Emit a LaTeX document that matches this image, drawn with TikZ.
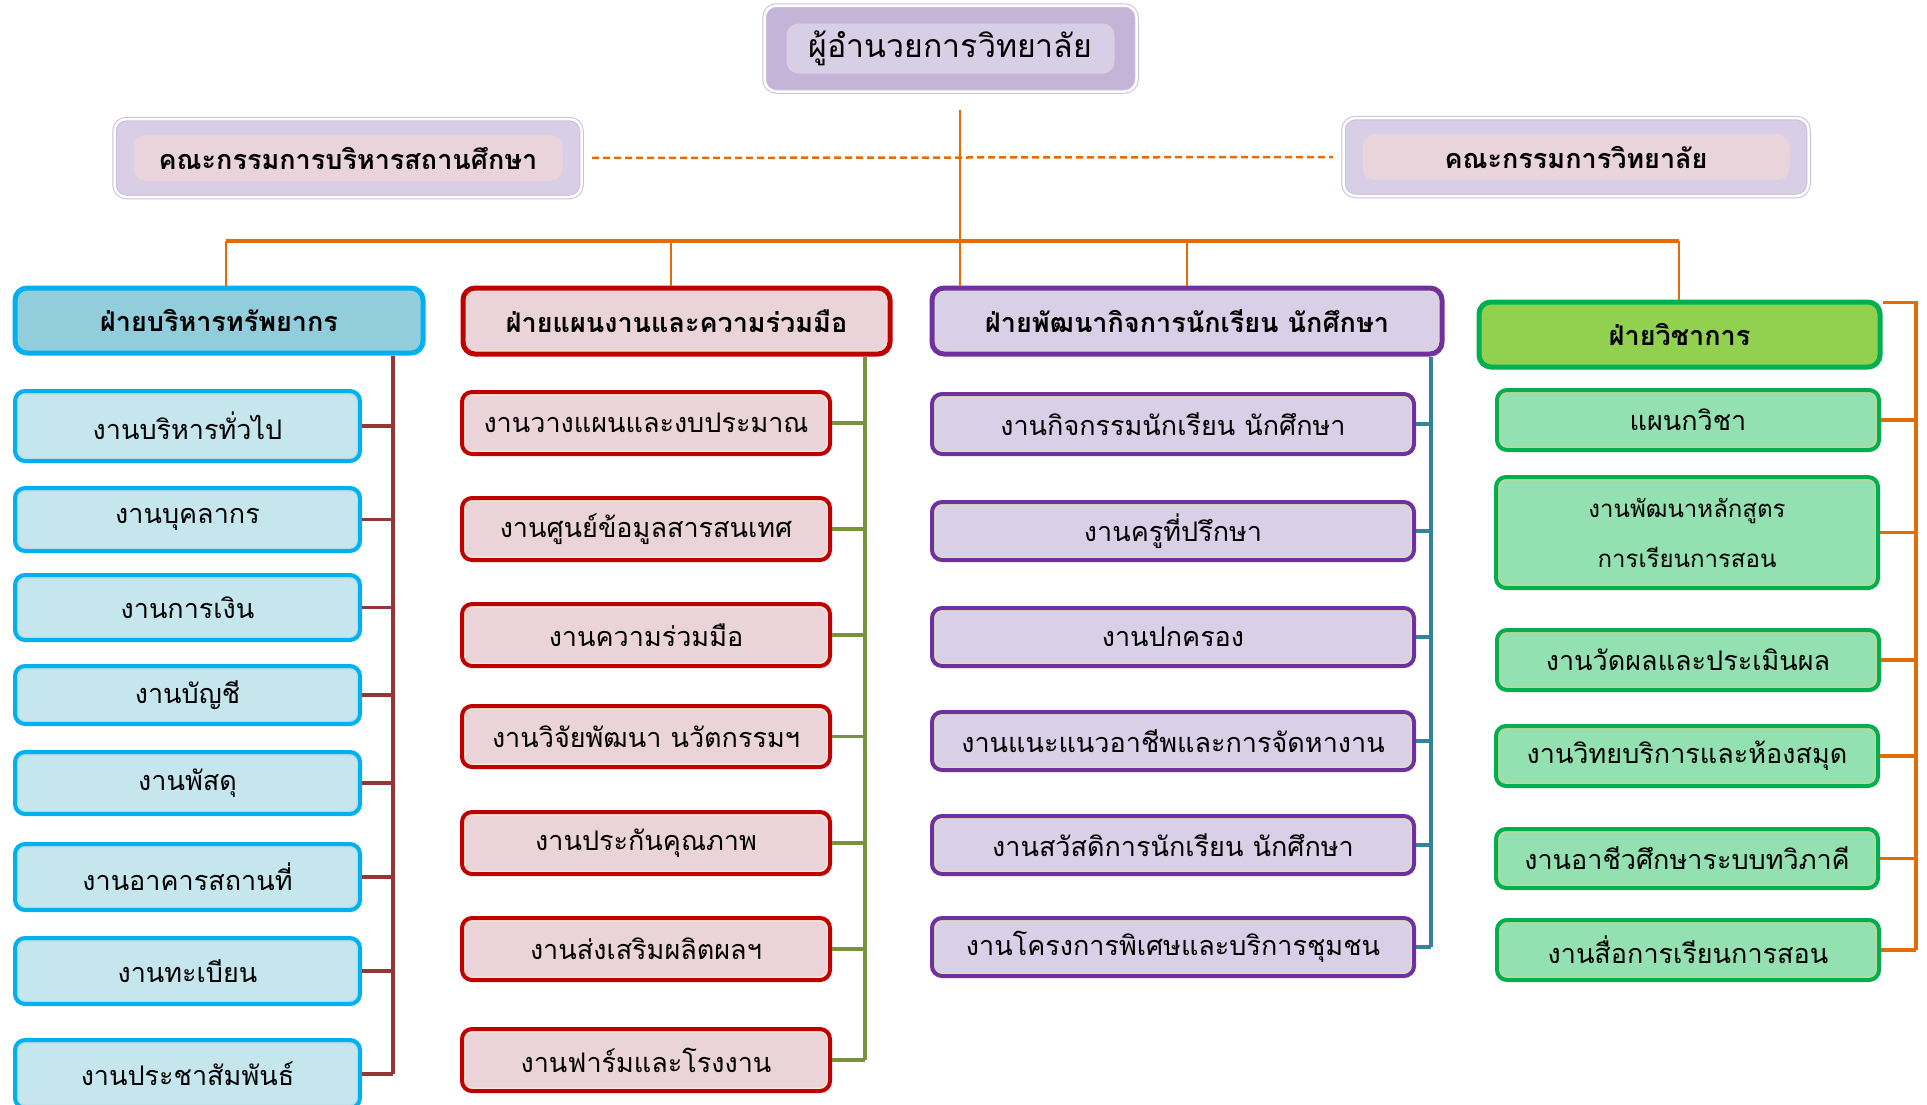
\documentclass[tikz,border=0pt]{standalone}
\usepackage{fontspec}
\newfontfamily\thai[Script=Thai]{Loma}
\definecolor{orng}{HTML}{E36C09}
\definecolor{blueB}{HTML}{00B0F0}
\definecolor{blueH}{HTML}{92CDDC}
\definecolor{blueS}{HTML}{C6E6EE}
\definecolor{blueI}{HTML}{B6DDE8}
\definecolor{redB}{HTML}{C00000}
\definecolor{redS}{HTML}{EBD3DA}
\definecolor{redI}{HTML}{FDE9D9}
\definecolor{purB}{HTML}{7030A0}
\definecolor{purS}{HTML}{D9CFE6}
\definecolor{purI}{HTML}{D7E4BD}
\definecolor{grnB}{HTML}{00B050}
\definecolor{grnH}{HTML}{92D050}
\definecolor{grnS}{HTML}{93E1B1}
\definecolor{grnI}{HTML}{C3D69B}
\definecolor{lnA}{HTML}{953735}
\definecolor{lnB}{HTML}{77933C}
\definecolor{lnC}{HTML}{31849B}
\definecolor{lavO}{HTML}{C4B5D8}
\definecolor{lavL}{HTML}{CBBFDE}
\definecolor{lavI}{HTML}{D8CFE6}
\definecolor{pinkI}{HTML}{EAD4DC}
\newcommand{\ubox}[7]{%
  \pgfmathsetmacro{\uCx}{(#3+#5)/2}\pgfmathsetmacro{\uCy}{(#4+#6)/2}%
  \pgfmathsetmacro{\uW}{#5-#3-4}\pgfmathsetmacro{\uH}{#6-#4-4}%
  \node[#2, minimum width=\uW pt, minimum height=\uH pt] (#1) at (\uCx,\uCy) {#7};}
\tikzset{
  inset/.style 2 args={fill=#1, path picture={\fill[#2, rounded corners=7pt]
     ([shift={(3.5pt,-3.5pt)}]path picture bounding box.north west) rectangle
     ([shift={(-3.5pt,3.5pt)}]path picture bounding box.south east);}},
  ubase/.style={rounded corners=10pt, line width=4pt, inner sep=0pt, align=center,
     font=\thai\fontsize{27}{32}\selectfont},
  hbase/.style={rounded corners=12pt, line width=5pt, inner sep=0pt, align=center,
     font=\thai\bfseries\fontsize{27}{32}\selectfont},
  hA/.style={hbase, draw=blueB, inset={blueH}{blueH}},
  hB/.style={hbase, draw=redB, inset={redI}{redS}},
  hC/.style={hbase, draw=purB, inset={purI}{purS}},
  hD/.style={hbase, draw=grnB, inset={grnH}{grnH}},
  sA/.style={ubase, draw=blueB, inset={blueI}{blueS}},
  sB/.style={ubase, draw=redB, inset={redI}{redS}},
  sC/.style={ubase, draw=purB, inset={purI}{purS}},
  sD/.style={ubase, draw=grnB, inset={grnI}{grnS}},
  toplink/.style={draw=orng, line width=2.5pt},
  brA/.style={draw=lnA, line width=3.5pt},
  brB/.style={draw=lnB, line width=3.5pt},
  brC/.style={draw=lnC, line width=3.5pt},
  brD/.style={draw=orng, line width=3.5pt},
  lavbox/.style={rounded corners=12pt, fill=lavO, draw=lavL, double=white,
     double distance=2.5pt, line width=1pt, inner sep=0pt},
}
\begin{document}
\begin{tikzpicture}[x=1pt,y=-1pt]
\useasboundingbox (0,0) rectangle (1927,1104);
\clip (0,0) rectangle (1927,1104);
% director
\node[lavbox, fill=lavO, minimum width=372pt, minimum height=86pt,
  path picture={\fill[lavI] ([shift={(22pt,-18pt)}]path picture bounding box.north west) rectangle ([shift={(-22pt,18pt)}]path picture bounding box.south east);},
  font=\thai\fontsize{32}{38}\selectfont] (dir) at (950.5,48.5) {ผู้อำนวยการวิทยาลัย};
% committees
\node[lavbox, fill=lavI, minimum width=467pt, minimum height=78pt,
  path picture={\fill[pinkI] ([shift={(19pt,-16pt)}]path picture bounding box.north west) rectangle ([shift={(-19pt,16pt)}]path picture bounding box.south east);},
  font=\thai\bfseries\fontsize{27}{32}\selectfont] (c1) at (348,158) {คณะกรรมการบริหารสถานศึกษา};
\node[lavbox, fill=lavI, minimum width=465pt, minimum height=78pt,
  path picture={\fill[pinkI] ([shift={(19pt,-16pt)}]path picture bounding box.north west) rectangle ([shift={(-19pt,16pt)}]path picture bounding box.south east);},
  font=\thai\bfseries\fontsize{27}{32}\selectfont] (c2) at (1576,157) {คณะกรรมการวิทยาลัย};
% headers
\ubox{h1}{hA}{13}{286}{425}{355}{ฝ่ายบริหารทรัพยากร}
\ubox{h2}{hB}{461}{286}{892}{356}{ฝ่ายแผนงานและความร่วมมือ}
\ubox{h3}{hC}{930}{286}{1444}{356}{ฝ่ายพัฒนากิจการนักเรียน นักศึกษา}
\ubox{h4}{hD}{1477}{300}{1882}{369}{ฝ่ายวิชาการ}
% column 1
\ubox{s11}{sA}{13}{389}{362}{463}{งานบริหารทั่วไป}
\ubox{s12}{sA}{13}{486}{362}{553}{งานบุคลากร}
\ubox{s13}{sA}{13}{573}{362}{642}{งานการเงิน}
\ubox{s14}{sA}{13}{664}{362}{726}{งานบัญชี}
\ubox{s15}{sA}{13}{750}{362}{816}{งานพัสดุ}
\ubox{s16}{sA}{13}{842}{362}{912}{งานอาคารสถานที่}
\ubox{s17}{sA}{13}{936}{362}{1006}{งานทะเบียน}
\ubox{s18}{sA}{13}{1038}{362}{1110}{งานประชาสัมพันธ์}
% column 2
\ubox{s21}{sB}{460}{390}{832}{456}{งานวางแผนและงบประมาณ}
\ubox{s22}{sB}{460}{496}{832}{562}{งานศูนย์ข้อมูลสารสนเทศ}
\ubox{s23}{sB}{460}{602}{832}{668}{งานความร่วมมือ}
\ubox{s24}{sB}{460}{704}{832}{769}{งานวิจัยพัฒนา นวัตกรรมฯ}
\ubox{s25}{sB}{460}{810}{832}{876}{งานประกันคุณภาพ}
\ubox{s26}{sB}{460}{916}{832}{982}{งานส่งเสริมผลิตผลฯ}
\ubox{s27}{sB}{460}{1027}{832}{1093}{งานฟาร์มและโรงงาน}
% column 3
\ubox{s31}{sC}{930}{392}{1416}{456}{งานกิจกรรมนักเรียน นักศึกษา}
\ubox{s32}{sC}{930}{500}{1416}{562}{งานครูที่ปรึกษา}
\ubox{s33}{sC}{930}{606}{1416}{668}{งานปกครอง}
\ubox{s34}{sC}{930}{710}{1416}{772}{งานแนะแนวอาชีพและการจัดหางาน}
\ubox{s35}{sC}{930}{814}{1416}{876}{งานสวัสดิการนักเรียน นักศึกษา}
\ubox{s36}{sC}{930}{916}{1416}{978}{งานโครงการพิเศษและบริการชุมชน}
% column 4
\ubox{s41}{sD}{1495}{388}{1881}{452}{แผนกวิชา}
\ubox{s42}{sD, font=\thai\fontsize{24}{50}\selectfont}{1494}{475}{1880}{590}{งานพัฒนาหลักสูตร\\การเรียนการสอน}
\ubox{s43}{sD}{1495}{628}{1881}{692}{งานวัดผลและประเมินผล}
\ubox{s44}{sD}{1494}{724}{1880}{788}{งานวิทยบริการและห้องสมุด}
\ubox{s45}{sD}{1494}{827}{1880}{890}{งานอาชีวศึกษาระบบทวิภาคี}
\ubox{s46}{sD}{1495}{918}{1881}{982}{งานสื่อการเรียนการสอน}
% top connectors
\coordinate (t0) at (960,110);
\coordinate (bl) at (226,241);
\coordinate (br) at (1679,241);
\coordinate (d2) at (671,241);
\draw[orng, line width=2.5pt, dash pattern=on 7pt off 4pt, shorten <=10pt, shorten >=10pt] (c1.east) -- (c2.west);
\draw[toplink] (t0) -- (h3.north -| t0);
\draw[toplink, line width=3.5pt] (bl) -- (br);
\draw[toplink] (bl) -- (h1.north -| bl);
\draw[toplink] (d2) -- (h2.north -| d2);
\draw[toplink] (h3.north |- bl) -- (h3.north);
\draw[toplink] (br) -- (h4.north -| br);
% brackets
\coordinate (v1) at (393,0);
\coordinate (v2) at (865,0);
\coordinate (v3) at (1431,0);
\coordinate (v4) at (1916,0);
\draw[brA] (h1.south -| v1) -- (s18.east -| v1);
\foreach \k in {1,...,8} {\draw[brA] (s1\k.east) -- (s1\k.east -| v1);}
\draw[brB] (h2.south -| v2) -- (s27.east -| v2);
\foreach \k in {1,...,7} {\draw[brB] (s2\k.east) -- (s2\k.east -| v2);}
\draw[brC] (h3.south -| v3) -- (s36.east -| v3);
\foreach \k in {1,...,6} {\draw[brC] (s3\k.east) -- (s3\k.east -| v3);}
\draw[brD] ([yshift=-3pt]h4.north east) -- ([yshift=-3pt]h4.north east -| v4) -- (s46.east -| v4);
\foreach \k in {1,...,6} {\draw[brD] (s4\k.east) -- (s4\k.east -| v4);}
\end{tikzpicture}
\end{document}
